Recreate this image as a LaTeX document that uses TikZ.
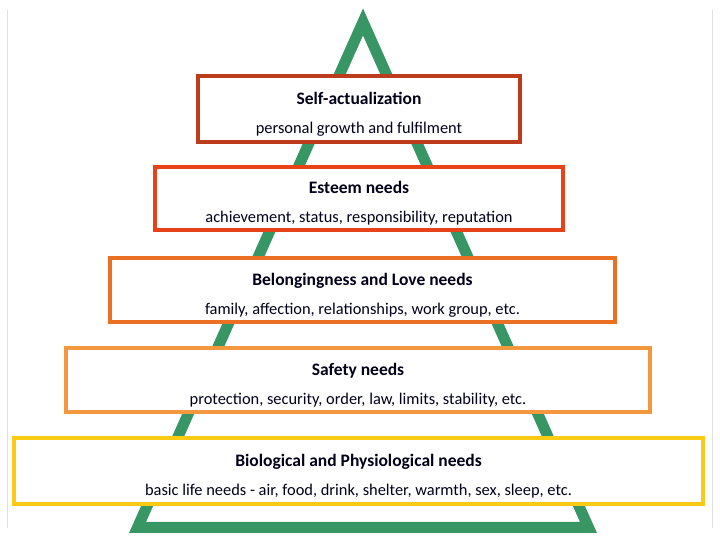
\documentclass[tikz,border=0pt]{standalone}
\usepackage{fontspec}
\setmainfont{Carlito}
\usepackage{xcolor}
\usepackage{tikz}
\usetikzlibrary{positioning, calc}
\definecolor{pyrgreen}{RGB}{55,150,100}
\definecolor{selfcol}{RGB}{190,60,30}
\definecolor{esteemcol}{RGB}{232,66,24}
\definecolor{lovecol}{RGB}{236,112,35}
\definecolor{safecol}{RGB}{243,152,60}
\definecolor{biocol}{RGB}{250,202,20}
\newcommand{\needtitle}[1]{{\fontsize{17.5}{29}\selectfont\bfseries #1}}
\tikzset{
  need/.style={rectangle, draw, line width=4pt, fill=white, text centered,
               align=center, font=\fontsize{16.4}{29}\selectfont, inner sep=0pt,
               text height=53pt, text depth=4pt, text=black!90!blue},
  frameline/.style={draw=black!12, line width=1pt}
}

\begin{document}
\begin{tikzpicture}[x=1pt, y=1pt]
    \useasboundingbox (0,0) rectangle (720,540);
    \coordinate (frametl) at (7,530);
    \coordinate (framebl) at (7,12);
    \coordinate (frametr) at (712,530);
    \coordinate (framebr) at (712,12);
    \draw[frameline] (frametl) -- (framebl);
    \draw[frameline] (frametr) -- (framebr);

    % pyramid
    \coordinate (apex) at (363,518);
    \coordinate (baseL) at (137.5,12.5);
    \coordinate (baseR) at (588.5,12.5);
    \draw[pyrgreen, line width=11pt, line join=miter] (apex) -- (baseL) -- (baseR) -- cycle;

    % levels
    \node[need, draw=selfcol, minimum width=322pt, minimum height=66pt] (selfact) at (359,431)
      {\needtitle{Self-actualization}\\ personal growth and fulfilment};
    \node[need, draw=esteemcol, minimum width=408pt, minimum height=63pt] (esteem) at (359,341.5)
      {\needtitle{Esteem needs}\\ achievement, status, responsibility, reputation};
    \node[need, draw=lovecol, minimum width=505pt, minimum height=64pt] (love) at (362.5,250)
      {\needtitle{Belongingness and Love needs}\\ family, affection, relationships, work group, etc.};
    \node[need, draw=safecol, minimum width=584pt, minimum height=64pt] (safety) at (358,160)
      {\needtitle{Safety needs}\\ protection, security, order, law, limits, stability, etc.};
    \node[need, draw=biocol, minimum width=689pt, minimum height=66pt] (bio) at (358.5,69)
      {\needtitle{Biological and Physiological needs}\\ basic life needs - air, food, drink, shelter, warmth, sex, sleep, etc.};
\end{tikzpicture}
\end{document}
